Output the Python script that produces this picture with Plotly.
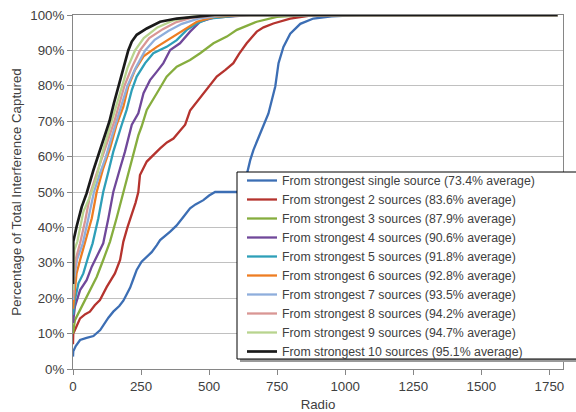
import plotly.graph_objects as go

# ---- data ----
names = [
    "From strongest single source (73.4% average)",
    "From strongest 2 sources (83.6% average)",
    "From strongest 3 sources (87.9% average)",
    "From strongest 4 sources (90.6% average)",
    "From strongest 5 sources (91.8% average)",
    "From strongest 6 sources (92.8% average)",
    "From strongest 7 sources (93.5% average)",
    "From strongest 8 sources (94.2% average)",
    "From strongest 9 sources (94.7% average)",
    "From strongest 10 sources (95.1% average)",
]
colors = ["#3C6EB4", "#B5332E", "#86AD3E", "#70489A", "#2E9FB8",
          "#EE7D22", "#8EAEDC", "#D99694", "#B8D48E", "#1A1A1A"]
widths = [2.3, 2.3, 2.3, 2.3, 2.3, 2.3, 2.3, 2.3, 2.3, 2.7]

x1 = [0, 1, 10, 26, 50, 75, 100, 111, 130, 148, 170, 185, 210, 222, 234, 252, 270, 289, 308, 320,
      357, 380, 406, 430, 450, 479, 500, 522, 632, 638, 651, 663, 688, 718, 743, 755, 773, 798,
      835, 883, 950, 1050, 1780]
y1 = [3.5, 5, 6.5, 8.2, 8.8, 9.3, 11, 12.3, 14.5, 16.2, 17.8, 19.3, 23, 25.5, 28, 30.3, 31.5, 33, 35, 36.4,
      38.8, 40.5, 43, 45.4, 46.5, 47.7, 49, 50, 50, 54.8, 59, 61.9, 66.6, 72.2, 79.8, 86.4, 91, 94.7,
      97.5, 99, 99.6, 100, 100]

x2 = [0, 1, 7, 26, 45, 62, 80, 99, 124, 154, 173, 185, 200, 216, 230, 240, 246, 271, 295, 320, 345,
      369, 390, 412, 430, 450, 479, 500, 528, 560, 589, 610, 638, 675, 700, 736, 798, 871, 1000, 1780]
y2 = [7, 10, 11, 14.3, 15.5, 16.2, 18, 19.5, 23.2, 27, 30.8, 36, 40, 43.5, 47, 50, 54.8, 58.6, 60.5, 62.3, 64,
      65.1, 67, 69, 73, 75, 77.9, 80, 82.6, 84.5, 86.4, 89, 92, 95.3, 96.5, 97.6, 99, 99.8, 100, 100]

x3 = [0, 7, 26, 45, 62, 87, 111, 136, 160, 185, 203, 222, 240, 252, 271, 308, 344, 381, 430, 467,
      516, 565, 602, 640, 675, 749, 850, 1780]
y3 = [10, 13.8, 16.7, 19.5, 22.3, 26, 30.8, 36, 42.6, 50, 55.7, 61.4, 66, 68.5, 73.2, 77.9, 82.6, 85.4, 87.3, 89.2,
      92, 93.9, 95.8, 97, 98.1, 99.5, 100, 100]

x4 = [0, 7, 26, 50, 69, 93, 111, 130, 148, 173, 191, 216, 240, 259, 283, 308, 332, 357, 393, 430,
      467, 520, 650, 1780]
y4 = [13, 17.6, 22.3, 25.1, 28.9, 32.7, 35.5, 42.6, 50, 56.7, 61.4, 69, 72.2, 77.9, 81.6, 84, 86.4, 90.1, 92, 95.3,
      98.1, 99.3, 100, 100]

x5 = [0, 7, 20, 38, 56, 72, 93, 111, 130, 148, 179, 197, 216, 234, 265, 295, 344, 381, 418, 455,
      500, 620, 1780]
y5 = [15.3, 19.5, 24.2, 27, 31.7, 35.5, 42.6, 50, 55.7, 61.4, 69, 73.2, 78.8, 82.6, 86.4, 89.2, 91, 92.9, 95.8, 97.6,
      99, 100, 100]

x6 = [0, 7, 13, 26, 44, 69, 87, 111, 136, 160, 185, 203, 228, 259, 308, 357, 405, 455, 520, 620, 1780]
y6 = [17, 22.3, 27, 30.8, 36, 42.6, 50, 56.7, 62.3, 69, 74.1, 79.8, 84.5, 88.3, 91, 93.4, 95.8, 98.1, 99.5, 100, 100]

x7 = [0, 5, 15, 36, 55, 77, 100, 121, 140, 160, 180, 200, 230, 265, 300, 350, 400, 460, 560, 1780]
y7 = [19.5, 26, 31, 35.5, 42, 50, 55.5, 60, 65, 70, 75, 80, 85, 90, 93, 95.5, 97.5, 99, 100, 100]

x8 = [0, 3, 10, 26, 45, 65, 88, 109, 130, 152, 170, 189, 215, 246, 280, 330, 380, 440, 540, 1780]
y8 = [20.4, 27, 31, 35.5, 42, 50, 55.5, 60, 65, 70, 75, 80, 85, 90, 93.5, 96, 98, 99.3, 100, 100]

x9 = [0, 2, 5, 16, 38, 62, 87, 111, 142, 160, 179, 200, 228, 260, 310, 370, 430, 520, 1780]
y9 = [22.3, 30, 33.6, 36, 44.4, 48.7, 54.3, 61.9, 70, 75, 80, 85, 90, 93.5, 96.5, 98.5, 99.5, 100, 100]

x10 = [0, 1, 4, 13, 32, 50, 75, 99, 134, 150, 167, 185, 203, 216, 234, 271, 320, 381, 442, 520, 1780]
y10 = [24, 36, 37, 40.2, 45.8, 49.6, 56.2, 61.9, 70, 75, 80, 85, 90, 92.5, 94.4, 96.2, 98.1, 99, 99.5, 100, 100]

xs = [x1, x2, x3, x4, x5, x6, x7, x8, x9, x10]
ys = [y1, y2, y3, y4, y5, y6, y7, y8, y9, y10]

x_ticks = [0, 250, 500, 750, 1000, 1250, 1500, 1750]
y_ticks = [0, 10, 20, 30, 40, 50, 60, 70, 80, 90, 100]
y_tick_labels = [f"{v}%" for v in y_ticks]

FONT = "Liberation Sans, Arial, sans-serif"

fig = go.Figure()
for xv, yv, nm, c, w in zip(xs, ys, names, colors, widths):
    fig.add_trace(go.Scatter(x=xv, y=yv, name=nm, mode="lines",
                             line=dict(color=c, width=w)))

# legend box with shadow (Excel style)
W, H = 576, 412
L, R, T, B = 73, 13, 15, 43
pw, ph = W - L - R, H - T - B
def px_x(p):
    return (p - L) / pw
def px_y(p):
    return (H - B - p) / ph

fig.add_shape(type="rect", xref="paper", yref="paper", layer="above",
              x0=px_x(240), x1=px_x(582), y0=px_y(362), y1=px_y(175),
              fillcolor="#9A9A9A", line=dict(width=0))
fig.add_shape(type="rect", xref="paper", yref="paper", layer="above",
              x0=px_x(237), x1=px_x(580), y0=px_y(359), y1=px_y(172),
              fillcolor="white", line=dict(color="#000000", width=1))

fig.update_layout(
    width=W, height=H,
    margin=dict(l=L, r=R, t=T, b=B, autoexpand=False),
    paper_bgcolor="white", plot_bgcolor="white",
    font=dict(family=FONT, size=13.3, color="#404040"),
    showlegend=True,
    legend=dict(x=px_x(242), y=px_y(166), xanchor="left", yanchor="top",
                bgcolor="rgba(0,0,0,0)", borderwidth=0,
                font=dict(family=FONT, size=12.3, color="#404040"),
                itemwidth=30),
    xaxis=dict(range=[0, 1800], tickvals=x_ticks, ticks="outside", ticklen=5,
               tickcolor="#868686", showline=True, linecolor="#868686", linewidth=1,
               showgrid=False, zeroline=False, mirror=True, automargin=False,
               title=dict(text="Radio", font=dict(size=13.3, color="#404040"), standoff=6)),
    yaxis=dict(range=[0, 100], tickvals=y_ticks, ticktext=y_tick_labels, ticks="outside", ticklen=5,
               tickcolor="#868686", showline=True, linecolor="#868686", linewidth=1,
               showgrid=True, gridcolor="#C0C0C0", gridwidth=1, zeroline=False, mirror=True,
               automargin=False,
               title=dict(text="Percentage of Total Interference Captured",
                          font=dict(size=13.3, color="#404040"), standoff=5)),
)

fig.write_html("out.html", config={"displayModeBar": False},
               post_script="document.body.style.margin='0';")
